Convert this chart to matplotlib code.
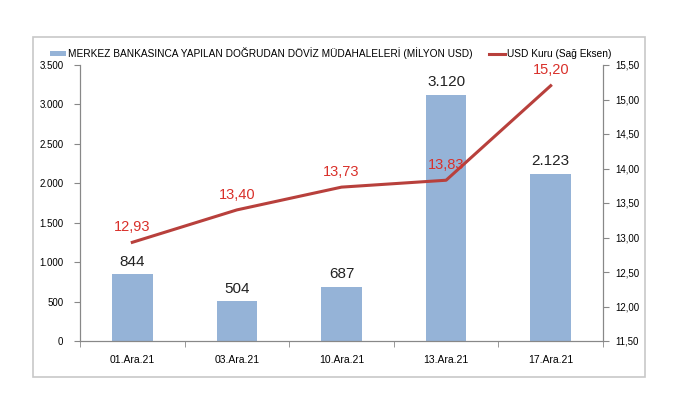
import matplotlib
matplotlib.use("Agg")
import matplotlib.pyplot as plt
from matplotlib.patches import Rectangle
from matplotlib.ticker import FuncFormatter

dates = ["01.Ara.21", "03.Ara.21", "10.Ara.21", "13.Ara.21", "17.Ara.21"]
mudahale = [844, 504, 687, 3120, 2123]
usd_kuru = [12.93, 13.40, 13.73, 13.83, 15.20]

plt.rcParams["font.family"] = ["Liberation Sans", "DejaVu Sans"]


def tr_int(v, _pos=None):
    return f"{int(round(v)):,}".replace(",", ".")


def tr_dec(v, _pos=None):
    return f"{v:.2f}".replace(".", ",")


fig = plt.figure(figsize=(6.8, 4.16), dpi=100)
fig.patches.append(Rectangle((33 / 680, 1 - 377 / 416), 612 / 680, 340 / 416,
                             transform=fig.transFigure, fill=False,
                             edgecolor="#c8c8c8", lw=1.2))
ax = fig.add_axes([80 / 680, 1 - 341 / 416, 523 / 680, 276 / 416])
ax2 = ax.twinx()

x = list(range(len(dates)))
bars = ax.bar(x, mudahale, width=0.39, color="#95b3d7",
              label="MERKEZ BANKASINCA YAPILAN DOĞRUDAN DÖVİZ MÜDAHALELERİ (MİLYON USD)")
line, = ax2.plot(x, usd_kuru, color="#b8403c", lw=2.2, label="USD Kuru (Sağ Eksen)")

ax.set_xlim(-0.5, len(dates) - 0.5)
ax.set_ylim(0, 3500)
ax.set_yticks(range(0, 3501, 500))
ax.yaxis.set_major_formatter(FuncFormatter(tr_int))
ax2.set_ylim(11.5, 15.5)
ax2.set_yticks([11.5 + 0.5 * i for i in range(9)])
ax2.yaxis.set_major_formatter(FuncFormatter(tr_dec))

ax.set_xticks(x)
ax.set_xticklabels(dates)
ax.set_xticks([i - 0.5 for i in range(len(dates) + 1)], minor=True)
ax.tick_params(axis="x", which="major", length=0, pad=10, labelsize=7.5)
ax.tick_params(axis="x", which="minor", length=4, color="#888888")
ax.tick_params(axis="y", length=4, color="#888888", labelsize=7, pad=8)
ax2.tick_params(axis="y", length=4, color="#888888", labelsize=7, pad=5)

for a in (ax, ax2):
    a.spines["top"].set_visible(False)
    for s in ("left", "right", "bottom"):
        a.spines[s].set_color("#888888")

for xi, v in zip(x, mudahale):
    ax.annotate(tr_int(v), (xi, v), xytext=(0, 4), textcoords="offset points",
                ha="center", va="bottom", fontsize=11, color="#222222")
for xi, v in zip(x, usd_kuru):
    ax2.annotate(tr_dec(v), (xi, v), xytext=(0, 11), textcoords="offset points",
                 ha="center", va="center", fontsize=10.5, color="#d9302a")

fig.legend(handles=[bars, line], loc="center", bbox_to_anchor=(331 / 680, 1 - 53 / 416),
           ncol=2, frameon=False, fontsize=7.3, handlelength=1.6,
           handleheight=0.5, columnspacing=1.6, handletextpad=0.2)

fig.savefig("out.png", dpi=100)
